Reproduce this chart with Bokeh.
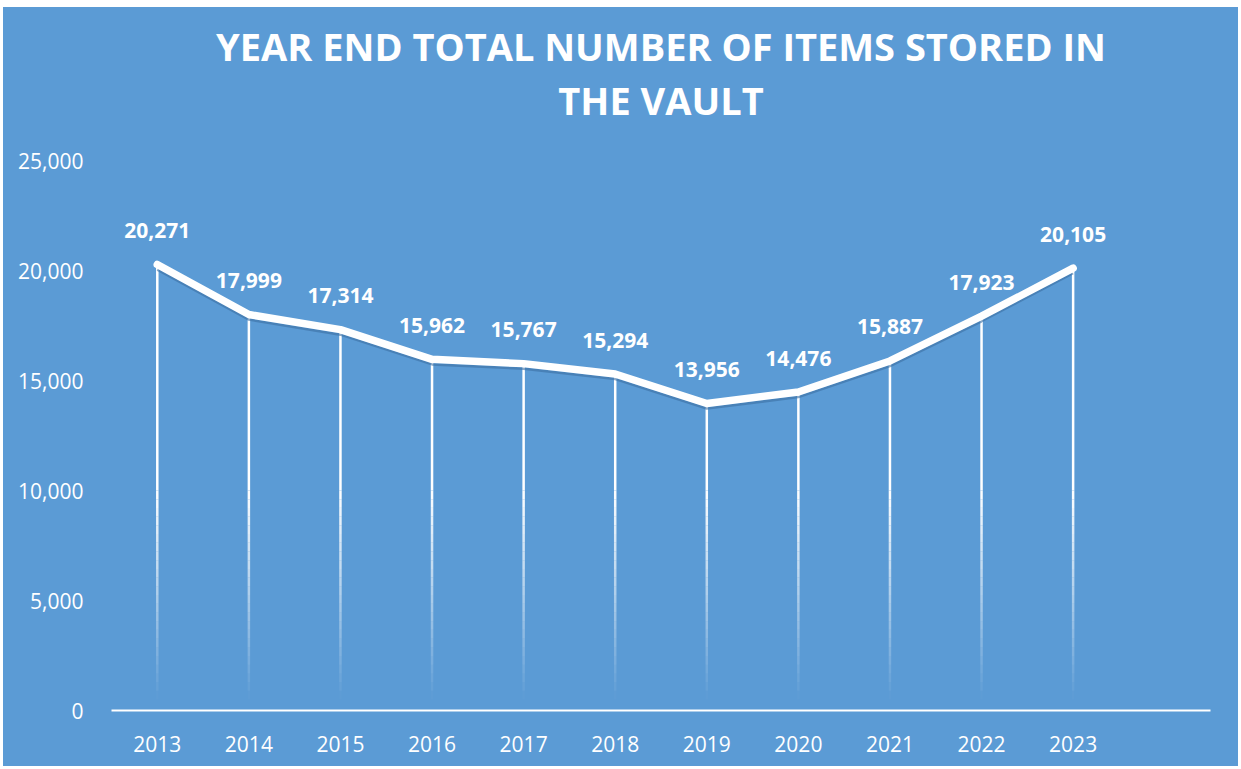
from bokeh.plotting import figure
from bokeh.models import (ColumnDataSource, FixedTicker, NumeralTickFormatter,
                          Range1d, Spacer, Title)
from bokeh.layouts import column, row
from bokeh.transform import dodge
from bokeh.core.properties import value
from bokeh.embed import file_html
from bokeh.resources import INLINE

# ---- data ----
years = [2013, 2014, 2015, 2016, 2017, 2018, 2019, 2020, 2021, 2022, 2023]
items = [20271, 17999, 17314, 15962, 15767, 15294, 13956, 14476, 15887, 17923, 20105]
y_ticks = [0, 5000, 10000, 15000, 20000, 25000]
title_line1 = "YEAR END TOTAL NUMBER OF ITEMS STORED IN"
title_line2 = "THE VAULT"

BG = "#5B9BD5"
FONT = "Open Sans"

labels = [f"{v:,}" for v in items]
src = ColumnDataSource(dict(x=years, y=items, label=labels))

p = figure(width=1235, height=759, output_backend="svg", toolbar_location=None,
           x_range=Range1d(years[0] - 0.5, years[-1] + 1.5),
           y_range=Range1d(0, 25000),
           min_border_left=108, min_border_right=28, min_border_bottom=56,
           min_border_top=153)
p.background_fill_color = None
p.border_fill_color = None
p.outline_line_color = None
p.grid.visible = False
p.styles = {"background-color": BG}

def make_title(txt, standoff, size="38px", lh=1.2):
    return Title(text=txt, align="center", text_color="white", text_font=FONT,
                 text_font_style="bold", text_font_size=size, standoff=standoff,
                 text_line_height=lh)

# spacer between frame and the title block
p.add_layout(make_title(" ", 30, size="2px"), "above")
p.add_layout(make_title(title_line2, 0, lh=1.1), "above")
p.title = make_title(title_line1, 0, lh=1.1)

# y axis
p.yaxis.ticker = FixedTicker(ticks=y_ticks)
p.yaxis.formatter = NumeralTickFormatter(format="0,0")
p.yaxis.axis_line_color = None
p.yaxis.major_tick_line_color = None
p.yaxis.minor_tick_line_color = None
p.yaxis.major_label_text_color = "white"
p.yaxis.major_label_text_font = FONT
p.yaxis.major_label_text_font_size = "21px"
p.yaxis.major_label_standoff = 22

# x axis
p.xaxis.ticker = FixedTicker(ticks=years)
p.xaxis.major_label_overrides = {y: str(y) for y in years}
p.xaxis.axis_line_color = "white"
p.xaxis.axis_line_width = 2
p.xaxis.major_tick_line_color = None
p.xaxis.minor_tick_line_color = None
p.xaxis.major_label_text_color = "white"
p.xaxis.major_label_text_font = FONT
p.xaxis.major_label_text_font_size = "21px"
p.xaxis.major_label_standoff = 19

# drop lines: solid down to fade_top, then fading towards the axis
fade_top, fade_bottom, steps = 10000, 500, 24
p.segment(x0=years, y0=items, x1=years, y1=[fade_top] * len(years),
          line_color="white", line_width=2.5)
for i in range(steps):
    a = fade_top - (fade_top - fade_bottom) * i / steps
    b = fade_top - (fade_top - fade_bottom) * (i + 1) / steps
    p.segment(x0=years, y0=[a] * len(years), x1=years, y1=[b] * len(years),
              line_color="white", line_width=2.5, line_alpha=1 - (i + 0.5) / steps)

# shadow under the main line
p.line(x="x", y=dodge("y", -230, range=p.y_range), source=src,
       line_color="#3c6fa3", line_alpha=0.6, line_width=2.5, line_join="round")
# main line
p.line(x="x", y="y", source=src, line_color="white", line_width=7.5,
       line_join="round", line_cap="round")

# data labels
p.text(x="x", y="y", text="label", source=src, text_align="center",
       text_baseline="middle", y_offset=-34, text_color="white",
       text_font=value(FONT), text_font_style="bold", text_font_size="21px")

layout = column(Spacer(height=7), row(Spacer(width=3), column(p, styles={"background-color": BG})))
open("out.html", "w").write(file_html(layout, INLINE))
